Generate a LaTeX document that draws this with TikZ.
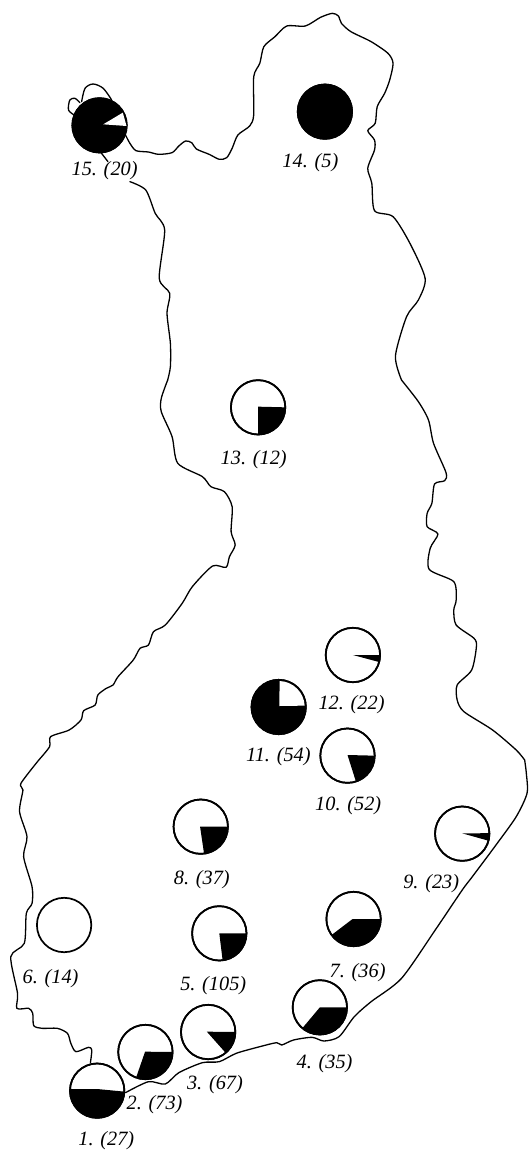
\documentclass[tikz,border=0pt]{standalone}
\usepackage{fontspec}
\setmainfont{Liberation Serif}
\tikzset{
  coast/.style={draw=black,line width=1.3pt,line join=round,line cap=round},
  disc/.style={draw=black,line width=1.7pt,fill=white},
  lab/.style={font=\fontsize{20.3}{22}\selectfont\itshape,inner sep=0pt,text=black}
}
\newcommand{\rr}{27.2pt}
% centre x,y ; tip x,y ; start, end angle of the sector (counter-clockwise)
\newcommand{\piechart}[6]{%
  \draw[disc] (#1,#2) circle (\rr);
  \fill[black] (#3,#4) -- ($(#1,#2)+(#5:\rr)$) arc[start angle=#5,end angle=#6,radius=\rr] -- cycle;
  \draw[line width=1.7pt] (#1,#2) circle (\rr);
}
\usetikzlibrary{calc}
\begin{document}
\begin{tikzpicture}[x=0.33738pt,y=-0.33333pt]
\useasboundingbox (0,0) rectangle (1568,3453);
\fill[white] (0,0) rectangle (1568,3453);
% upper part
\draw[coast] plot[smooth,tension=0.45] coordinates {(372,405)(385,430)(403,452)(440,456)(470,463)(510,458)(530,438)(550,423)(568,428)(582,447)(620,463)(650,478)(672,473)(688,445)(705,405)(740,378)(752,345)(752,230)(770,190)(782,140)(815,110)(850,78)(905,78)(950,52)(985,40)(1003,48)(1012,70)(1040,95)(1100,125)(1150,160)(1165,190)(1155,240)(1140,280)(1118,320)(1112,370)(1090,392)(1110,420)(1110,450)(1090,505)(1102,550)(1110,632)(1165,650)(1215,730)(1260,835)(1240,900)(1205,950)(1172,1068)(1190,1140)};
\draw[coast] plot[smooth,tension=0.45] coordinates {(497,1140)(505,1100)(505,1030)(495,940)(503,880)(472,835)(488,690)(460,640)(432,570)(385,545)};
\draw[coast] (320,485) -- (301,460);
\draw[coast] plot[smooth,tension=0.5] coordinates {(220,345)(203,330)(207,300)(222,295)(237,308)};
\draw[coast] plot[smooth,tension=0.5] coordinates {(242,305)(252,265)(276,252)(306,265)(331,300)};
% middle part
\begin{scope}[shift={(0,1140)}]
\draw[coast] plot[smooth,tension=0.45] coordinates {(1190,0)(1240,65)(1270,120)(1285,190)(1322,278)(1318,302)(1288,312)(1280,370)(1266,400)(1266,440)(1298,462)(1275,505)(1272,568)(1345,605)(1352,660)(1345,690)(1352,735)(1405,775)(1412,800)(1398,870)(1355,915)(1355,960)(1375,995)(1460,1050)(1530,1110)(1555,1140)};
\draw[coast] plot[smooth,tension=0.45] coordinates {(497,0)(478,55)(478,95)(510,170)(527,250)(600,290)(625,320)(665,335)(688,380)(685,455)(697,495)(680,530)(670,562)(630,558)(570,620)(540,670)(490,735)(455,755)(440,795)(415,805)(395,840)(350,890)(335,915)(315,925)(290,945)(282,975)(248,992)(240,1020)(205,1050)(150,1070)(147,1100)(115,1140)};
\end{scope}
% lower part
\begin{scope}[shift={(0,2280)}]
\draw[coast] plot[smooth,tension=0.45] coordinates {(1555,0)(1560,40)(1562,100)(1530,170)(1470,255)(1400,350)(1370,390)(1290,510)(1190,655)(1100,725)(1050,770)(1005,830)(960,843)(925,832)(870,840)(835,855)(820,848)(770,860)(700,880)(650,905)(600,908)(530,938)(490,972)(440,965)(372,998)};
\draw[coast] plot[smooth,tension=0.45] coordinates {(268,908)(272,870)(262,862)(225,875)(210,850)(200,820)(170,805)(125,805)(100,797)(97,760)(85,745)(50,745)(52,700)(32,590)(72,550)(78,460)(95,430)(95,380)(70,290)(80,230)(58,155)(68,90)(62,70)(115,0)};
\end{scope}
% pies, upper
\piechart{295}{376}{295}{376}{0}{360}
\fill[white] (306,373) -- (364,338) -- (375,378) -- cycle;
\piechart{963}{335}{963}{335}{0}{360}
\node[lab] (n15) at (310,513) {15. (20)};
\node[lab] (n14) at (920,487) {14. (5)};
\begin{scope}[shift={(0,1140)}]
\piechart{765}{82}{765}{80}{-90}{0}
\piechart{1046}{825}{1046}{825}{-15}{0}
\piechart{826}{981}{828}{978}{3}{450}
\fill[white] (828,978) -- ($(826,981)+(3:26pt)$) arc[start angle=3,end angle=88,radius=26pt] -- cycle;
\piechart{1030}{1127}{1030}{1125}{-72}{0}
\node[lab] (n13) at (752,238) {13. (12)};
\node[lab] (n12) at (1042,975) {12. (22)};
\node[lab] (n11) at (825,1130) {11. (54)};
\end{scope}
\begin{scope}[shift={(0,2280)}]
\piechart{595}{200}{593}{200}{-83}{0}
\piechart{1370}{221}{1370}{220}{-15}{1}
\draw[disc] (190,495) circle (\rr);
\piechart{1048}{477}{1045}{477}{-144}{0}
\piechart{650}{520}{650}{520}{-83}{0}
\piechart{948}{742}{948}{742}{-130}{0}
\piechart{617}{816}{613}{815}{-50}{0}
\piechart{431}{876}{430}{875}{-110}{0}
\piechart{288}{992}{288}{987}{177}{358}
\node[lab] (n10) at (1032,137) {10. (52)};
\node[lab] (n8) at (598,360) {8. (37)};
\node[lab] (n9) at (1278,370) {9. (23)};
\node[lab] (n7) at (1060,637) {7. (36)};
\node[lab] (n6) at (150,655) {6. (14)};
\node[lab] (n5) at (632,677) {5. (105)};
\node[lab] (n4) at (962,912) {4. (35)};
\node[lab] (n3) at (637,973) {3. (67)};
\node[lab] (n2) at (458,1035) {2. (73)};
\node[lab] (n1) at (315,1143) {1. (27)};
\end{scope}
\end{tikzpicture}
\end{document}
